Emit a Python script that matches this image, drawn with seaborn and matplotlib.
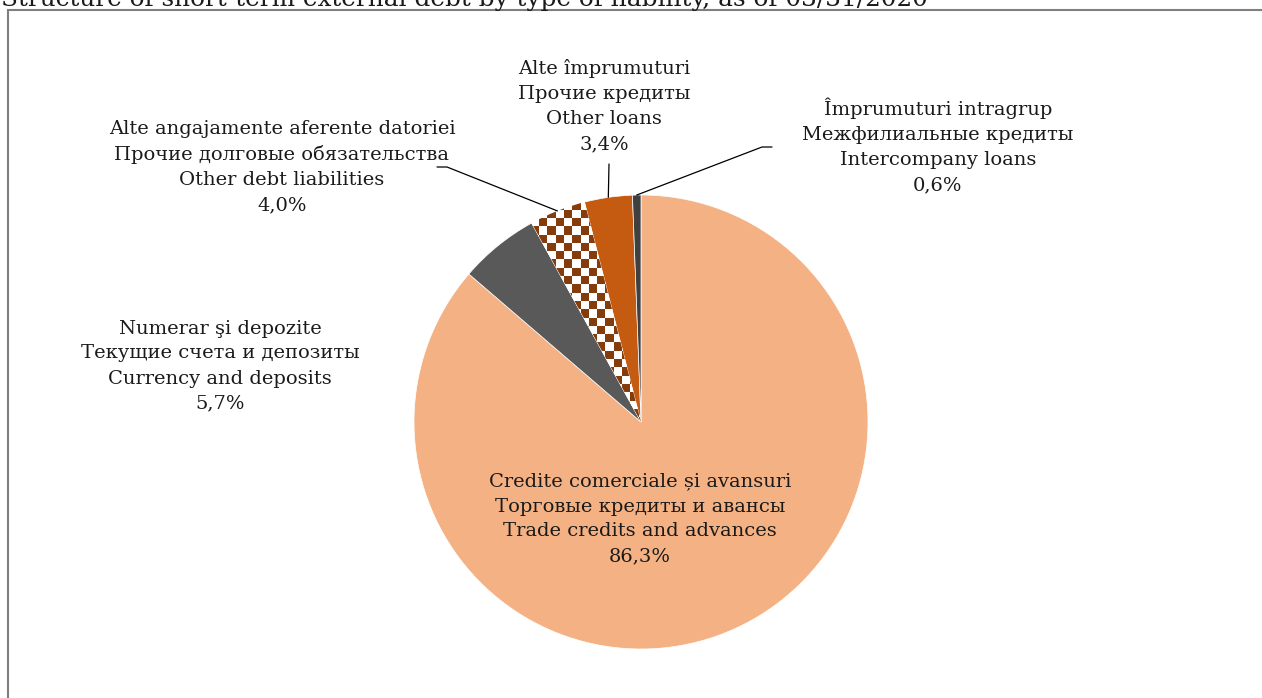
import numpy as np
import matplotlib
matplotlib.use("Agg")
import matplotlib.pyplot as plt
from matplotlib.colors import ListedColormap
from matplotlib.patches import Rectangle
import seaborn as sns

# data (clockwise from 12 o'clock)
labels_ro = ["Credite comerciale și avansuri", "Numerar şi depozite",
             "Alte angajamente aferente datoriei", "Alte împrumuturi",
             "Împrumuturi intragrup"]
labels_ru = ["Торговые кредиты и авансы", "Текущие счета и депозиты",
             "Прочие долговые обязательства", "Прочие кредиты",
             "Межфилиальные кредиты"]
labels_en = ["Trade credits and advances", "Currency and deposits",
             "Other debt liabilities", "Other loans", "Intercompany loans"]
shares = [86.3, 5.7, 4.0, 3.4, 0.6]
title = "Structure of short-term external debt by type of liability, as of 03/31/2020"

colors = ["#F4B183", "#595959", "#FFFFFF", "#C55A11", "#404040"]
checker_color = "#843C0C"

W, H = 1262, 698
cx, cy, r = 641, H - 422, 227

sns.set_theme(style="white")
plt.rcParams['font.family'] = ['DejaVu Serif']

fig = plt.figure(figsize=(W / 100, H / 100), dpi=100)
ax = fig.add_axes([0, 0, 1, 1])

wedges, _ = ax.pie(shares, colors=colors, startangle=90, counterclock=False,
                   center=(cx, cy), radius=r,
                   wedgeprops=dict(edgecolor="white", linewidth=0.5))

# checkered fill for "Other debt liabilities"
cell = 8.3
x0, y0 = cx - 160, cy - 20
nx, ny = 40, 40
grid = np.add.outer(np.arange(ny), np.arange(nx)) % 2
im = ax.imshow(grid, cmap=ListedColormap(["white", checker_color]),
               extent=(x0, x0 + nx * cell, y0, y0 + ny * cell),
               origin="lower", interpolation="nearest", zorder=wedges[2].zorder + 0.1)
im.set_clip_path(wedges[2])

ax.set_xlim(0, W)
ax.set_ylim(0, H)
ax.set_aspect("equal")
ax.axis("off")

# label layout (text centre in image pixels) and leader elbows
label_pos = [(640, 519), (220, 366), (282, 167), (604, 106), (938, 146)]
elbows = [None, None, [(437, 167), (447, 167)], [(609, 164)], [(772, 147), (762, 147)]]

for i, w in enumerate(wedges):
    pct = f"{shares[i]:.1f}%".replace(".", ",")
    txt = f"{labels_ro[i]}\n{labels_ru[i]}\n{labels_en[i]}\n{pct}"
    lx, ly = label_pos[i]
    ax.text(lx, H - ly, txt, ha="center", va="center", multialignment="center",
            fontsize=14, color="#1a1a1a", linespacing=1.5)
    if elbows[i] is not None:
        ang = np.deg2rad((w.theta1 + w.theta2) / 2)
        ex, ey = cx + r * np.cos(ang), cy + r * np.sin(ang)
        pts = [(px, H - py) for px, py in elbows[i]] + [(ex, ey)]
        ax.plot([p[0] for p in pts], [p[1] for p in pts], color="black", lw=0.9)

# chart frame and clipped title
ax.add_patch(Rectangle((7.5, -50), 1400, H - 10 + 50, fill=False,
                       edgecolor="#7f7f7f", linewidth=1.5, clip_on=False))
ax.text(1, H - 6, title, ha="left", va="baseline", fontsize=17.8, color="#1a1a1a")

fig.savefig("out.png", dpi=100)
